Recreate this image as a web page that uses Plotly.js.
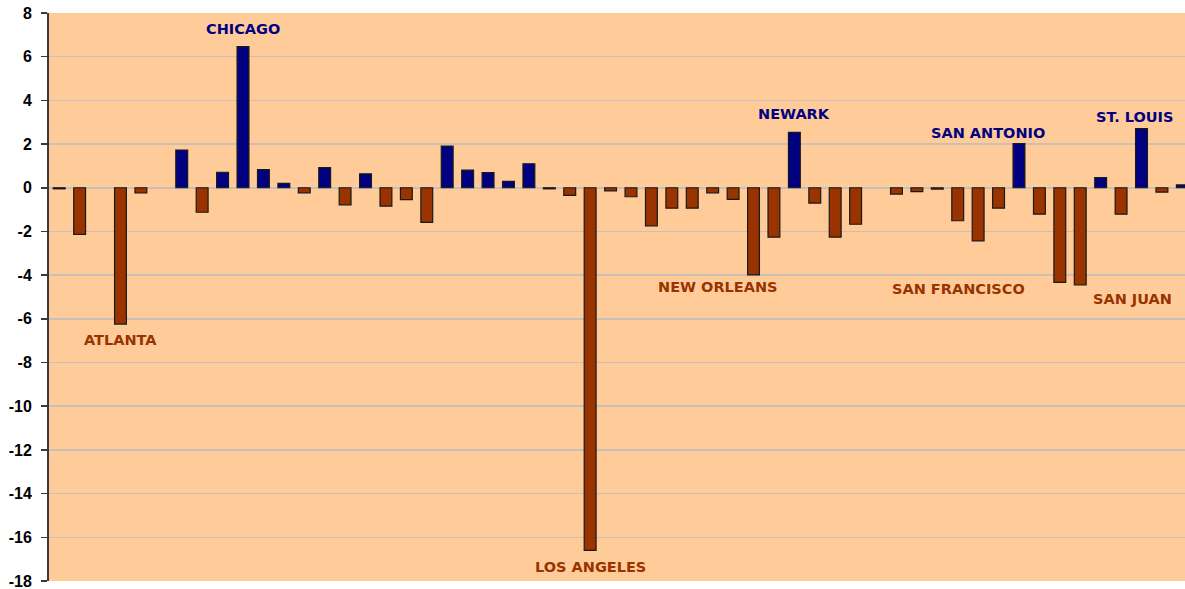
<!DOCTYPE html>
<html>
<head>
<meta charset="utf-8">
<script src="https://cdn.plot.ly/plotly-3.0.1.min.js"></script>
<style>
  html, body { margin: 0; padding: 0; background: #ffffff; }
  #chart { width: 1185px; height: 589px; }
</style>
</head>
<body>
<div id="chart"></div>
<script>
// Category positions (one slot per station; some slots have no bar)
const categories = Array.from({length: 56}, (_, i) => i);

// Values (null = no bar)
const values = [
  -0.05, -2.13, null, -6.24, -0.24, null, 1.73, -1.12, 0.71, 6.46,
  0.83, 0.20, -0.23, 0.92, -0.78, 0.64, -0.84, -0.54, -1.58, 1.91,
  0.81, 0.69, 0.29, 1.10, -0.05, -0.35, -16.6, -0.14, -0.41, -1.74,
  -0.93, -0.93, -0.23, -0.53, -3.99, -2.26, 2.54, -0.70, -2.26, -1.67,
  null, -0.29, -0.18, -0.06, -1.51, -2.43, -0.93, 2.02, -1.21, -4.33,
  -4.45, 0.46, -1.21, 2.71, -0.20, 0.13
];

// Labelled stations
const labelTexts = ["CHICAGO", "ATLANTA", "LOS ANGELES", "NEW ORLEANS", "NEWARK",
                    "SAN FRANCISCO", "SAN ANTONIO", "SAN JUAN", "ST. LOUIS"];
const labelSigns = [1, -1, -1, -1, 1, -1, 1, -1, 1];

// y tick values
const yTicks = [8, 6, 4, 2, 0, -2, -4, -6, -8, -10, -12, -14, -16, -18];

const BLUE = "#000080";
const BROWN = "#993300";

const barColors = values.map(v => (v !== null && v > 0) ? BLUE : BROWN);

const trace = {
  type: "bar",
  x: categories,
  y: values,
  marker: { color: barColors, line: { color: "#1a1a1a", width: 1.2 } },
  hoverinfo: "none"
};

// annotation placement (pixel-derived, in axis units)
const labelPos = [
  [9.0, 7.28],            // CHICAGO
  [2.99, -6.98],          // ATLANTA
  [26.0, -17.38],         // LOS ANGELES
  [32.25, -4.53],         // NEW ORLEANS
  [36.0, 3.36],           // NEWARK
  [44.05, -4.65],         // SAN FRANCISCO
  [45.5, 2.5],            // SAN ANTONIO
  [52.57, -5.1],          // SAN JUAN
  [52.67, 3.22]           // ST. LOUIS
];

const annotations = labelTexts.map((t, i) => ({
  x: labelPos[i][0], y: labelPos[i][1], xref: "x", yref: "y",
  text: t, showarrow: false,
  xanchor: "center", yanchor: "middle",
  font: { family: "DejaVu Sans, Verdana, sans-serif", size: 14.5, weight: "bold",
          color: labelSigns[i] > 0 ? BLUE : BROWN }
}));

const layout = {
  width: 1185, height: 589,
  margin: { l: 49, r: 0, t: 13, b: 8 },
  paper_bgcolor: "#ffffff",
  plot_bgcolor: "#FFCC99",
  showlegend: false,
  bargap: 0.42,
  xaxis: {
    type: "linear",
    range: [-0.5, 55.13],
    showticklabels: false,
    showgrid: false,
    zeroline: false,
    showline: false,
    ticks: ""
  },
  yaxis: {
    range: [-18, 8],
    tickvals: yTicks,
    ticktext: yTicks.map(v => String(v)),
    showgrid: true,
    gridcolor: "#C8C0B8",
    gridwidth: 1.5,
    zeroline: true,
    zerolinecolor: "#C8C0B8",
    zerolinewidth: 1.5,
    showline: true,
    linecolor: "#3a3a3a",
    linewidth: 2,
    ticks: "outside",
    ticklen: 6,
    tickcolor: "#3a3a3a",
    tickwidth: 1.5,
    ticklabelstandoff: 6,
    ticklabeloverflow: "allow",
    tickfont: { family: "Liberation Sans, Arial, sans-serif", size: 16, weight: "bold", color: "#000000" }
  },
  annotations: annotations
};

Plotly.newPlot("chart", [trace], layout, { staticPlot: true, displayModeBar: false });
</script>
</body>
</html>
